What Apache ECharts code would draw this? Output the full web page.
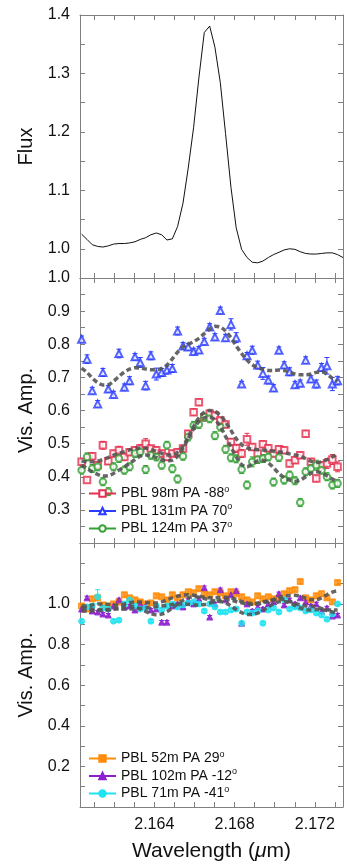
<!DOCTYPE html>
<html>
<head>
<meta charset="utf-8">
<script src="https://cdn.jsdelivr.net/npm/echarts@6/dist/echarts.min.js"></script>
<style>
html, body { margin: 0; padding: 0; background: #fff; }
#chart { width: 347px; height: 864px; }
</style>
</head>
<body>
<div id="chart"></div>
<script>
// Spectral channels (micron)
const wave = [2.16038, 2.16065, 2.16091, 2.16118, 2.16144, 2.16171, 2.16197, 2.16224, 2.16251, 2.16277,
  2.16304, 2.16330, 2.16357, 2.16383, 2.16410, 2.16437, 2.16463, 2.16490, 2.16516, 2.16543,
  2.16569, 2.16596, 2.16622, 2.16649, 2.16676, 2.16702, 2.16729, 2.16755, 2.16782, 2.16808,
  2.16835, 2.16862, 2.16888, 2.16915, 2.16941, 2.16968, 2.16994, 2.17021, 2.17047, 2.17074,
  2.17101, 2.17127, 2.17154, 2.17180, 2.17207, 2.17233, 2.17260, 2.17287, 2.17313];
const fluxWave = wave.concat([2.17340]);

// Normalised Br-gamma line profile
const flux = [1.025, 1.016, 1.007, 1.004, 1.003, 1.005, 1.008, 1.009, 1.009, 1.010,
  1.012, 1.016, 1.019, 1.024, 1.027, 1.024, 1.015, 1.017, 1.038, 1.078,
  1.138, 1.208, 1.292, 1.370, 1.381, 1.345, 1.284, 1.197, 1.105, 1.036,
  0.999, 0.985, 0.977, 0.976, 0.979, 0.985, 0.990, 0.994, 0.998, 1.000,
  0.999, 0.995, 0.992, 0.991, 0.991, 0.992, 0.993, 0.993, 0.990, 0.985];

// Long baselines
const amp98 = [0.445, 0.39, 0.462, 0.435, 0.495, 0.447, 0.47, 0.48, 0.46, 0.474,
  0.48, 0.485, 0.50, 0.485, 0.48, 0.47, 0.46, 0.47, 0.474, 0.485,
  0.53, 0.595, 0.625, 0.58, 0.59, 0.585, 0.57, 0.558, 0.505, 0.486,
  0.47, 0.513, 0.49, 0.47, 0.498, 0.486, 0.47, 0.483, 0.48, 0.44,
  0.45, 0.465, 0.53, 0.445, 0.395, 0.435, 0.44, 0.452, 0.43];
const err98 = [0.01, 0.008, 0.01, 0.01, 0.012, 0.01, 0.01, 0.012, 0.01, 0.01,
  0.01, 0.012, 0.015, 0.01, 0.01, 0.01, 0.01, 0.01, 0.01, 0.01,
  0.01, 0.01, 0.01, 0.01, 0.01, 0.01, 0.01, 0.01, 0.01, 0.012,
  0.012, 0.018, 0.01, 0.01, 0.01, 0.01, 0.01, 0.01, 0.01, 0.01,
  0.01, 0.01, 0.01, 0.01, 0.01, 0.01, 0.015, 0.015, 0.015];
const model98 = [0.448, 0.445, 0.445, 0.447, 0.452, 0.458, 0.465, 0.471, 0.476, 0.481,
  0.485, 0.487, 0.486, 0.482, 0.477, 0.471, 0.466, 0.466, 0.474, 0.492,
  0.52, 0.552, 0.578, 0.595, 0.60, 0.597, 0.585, 0.565, 0.54, 0.515,
  0.497, 0.487, 0.483, 0.482, 0.481, 0.479, 0.477, 0.475, 0.473, 0.469,
  0.466, 0.462, 0.455, 0.447, 0.443, 0.445, 0.452, 0.46, 0.468];

const amp131 = [0.815, 0.755, 0.66, 0.62, 0.715, 0.665, 0.648, 0.772, 0.67, 0.69,
  0.762, 0.745, 0.675, 0.765, 0.71, 0.715, 0.722, 0.727, 0.84, 0.795,
  0.792, 0.778, 0.783, 0.808, 0.852, 0.822, 0.902, 0.82, 0.86, 0.82,
  0.68, 0.765, 0.782, 0.737, 0.712, 0.692, 0.668, 0.782, 0.737, 0.717,
  0.678, 0.682, 0.752, 0.695, 0.68, 0.73, 0.735, 0.68, 0.69];
const err131 = [0.01, 0.013, 0.01, 0.01, 0.012, 0.01, 0.01, 0.013, 0.01, 0.012,
  0.01, 0.015, 0.013, 0.012, 0.018, 0.012, 0.012, 0.012, 0.012, 0.01,
  0.01, 0.01, 0.01, 0.01, 0.01, 0.01, 0.01, 0.01, 0.017, 0.015,
  0.008, 0.01, 0.012, 0.012, 0.018, 0.012, 0.01, 0.01, 0.01, 0.012,
  0.01, 0.01, 0.01, 0.01, 0.012, 0.012, 0.025, 0.02, 0.013];
const model131 = [0.728, 0.715, 0.698, 0.684, 0.677, 0.678, 0.688, 0.703, 0.716, 0.725,
  0.729, 0.728, 0.725, 0.723, 0.723, 0.727, 0.737, 0.756, 0.776, 0.792,
  0.800, 0.808, 0.818, 0.832, 0.846, 0.854, 0.852, 0.840, 0.820, 0.795,
  0.772, 0.752, 0.738, 0.729, 0.724, 0.721, 0.721, 0.722, 0.721, 0.716,
  0.710, 0.708, 0.708, 0.710, 0.715, 0.717, 0.710, 0.697, 0.688];

const amp124 = [0.42, 0.46, 0.425, 0.43, 0.385, 0.355, 0.43, 0.455, 0.42, 0.43,
  0.47, 0.475, 0.422, 0.465, 0.46, 0.435, 0.495, 0.424, 0.393, 0.462,
  0.52, 0.555, 0.558, 0.58, 0.575, 0.524, 0.55, 0.483, 0.457, 0.454,
  0.422, 0.375, 0.445, 0.452, 0.455, 0.46, 0.384, 0.458, 0.39, 0.405,
  0.388, 0.322, 0.415, 0.425, 0.435, 0.42, 0.40, 0.375, 0.38];
const err124 = [0.012, 0.012, 0.012, 0.012, 0.012, 0.012, 0.012, 0.012, 0.012, 0.012,
  0.012, 0.012, 0.012, 0.012, 0.012, 0.012, 0.012, 0.012, 0.012, 0.012,
  0.012, 0.012, 0.012, 0.012, 0.012, 0.012, 0.012, 0.012, 0.012, 0.012,
  0.012, 0.012, 0.015, 0.012, 0.012, 0.012, 0.012, 0.012, 0.012, 0.012,
  0.012, 0.012, 0.012, 0.012, 0.015, 0.012, 0.012, 0.012, 0.012];
const model124 = [0.435, 0.425, 0.415, 0.407, 0.402, 0.403, 0.41, 0.42, 0.43, 0.44,
  0.452, 0.462, 0.466, 0.464, 0.458, 0.452, 0.448, 0.45, 0.462, 0.485,
  0.515, 0.545, 0.567, 0.578, 0.58, 0.572, 0.552, 0.522, 0.49, 0.46,
  0.437, 0.43, 0.438, 0.448, 0.45, 0.442, 0.427, 0.41, 0.397, 0.39,
  0.386, 0.39, 0.40, 0.41, 0.415, 0.412, 0.403, 0.393, 0.386];

// Short / intermediate baselines
const amp52 = [0.99, 0.975, 1.025, 1.03, 0.995, 0.985, 1.0, 1.01, 1.045, 1.03,
  1.02, 1.01, 1.0, 1.005, 1.04, 1.035, 1.02, 1.045, 1.03, 1.045,
  1.06, 1.055, 1.075, 1.05, 1.045, 1.06, 1.055, 1.04, 1.06, 1.05,
  1.035, 1.02, 1.01, 1.04, 1.025, 1.035, 1.025, 1.03, 1.05, 1.065,
  1.07, 1.11, 1.03, 1.02, 1.04, 1.05, 1.03, 1.01, 1.105];
const err52 = [0.01, 0.01, 0.01, 0.01, 0.01, 0.01, 0.01, 0.01, 0.01, 0.01,
  0.01, 0.01, 0.01, 0.01, 0.01, 0.01, 0.01, 0.01, 0.01, 0.01,
  0.01, 0.01, 0.01, 0.01, 0.01, 0.01, 0.01, 0.01, 0.01, 0.01,
  0.01, 0.01, 0.01, 0.01, 0.01, 0.01, 0.01, 0.01, 0.01, 0.01,
  0.01, 0.01, 0.01, 0.01, 0.012, 0.012, 0.01, 0.01, 0.01];
const model52 = [0.99, 0.99, 0.995, 1.0, 1.0, 0.998, 0.995, 0.995, 1.0, 1.005,
  1.01, 1.01, 1.008, 1.005, 1.005, 1.01, 1.02, 1.03, 1.038, 1.043,
  1.045, 1.043, 1.038, 1.033, 1.03, 1.03, 1.032, 1.033, 1.03, 1.022,
  1.012, 1.005, 1.003, 1.005, 1.01, 1.015, 1.022, 1.03, 1.038, 1.042,
  1.043, 1.038, 1.028, 1.02, 1.02, 1.03, 1.045, 1.058, 1.065];

const amp102 = [0.975, 1.03, 0.965, 0.96, 0.95, 0.945, 0.99, 1.02, 0.985, 0.99,
  0.97, 1.0, 0.99, 0.97, 0.975, 0.91, 0.91, 0.99, 1.0, 0.985,
  1.02, 1.0, 1.025, 1.08, 0.935, 1.0, 1.07, 1.02, 1.045, 1.065,
  0.905, 1.0, 0.965, 0.985, 0.975, 1.0, 1.01, 1.05, 0.995, 1.02,
  1.0, 1.03, 1.01, 0.99, 1.0, 0.965, 0.98, 0.94, 0.945];
const err102 = [0.008, 0.008, 0.008, 0.008, 0.008, 0.008, 0.008, 0.008, 0.008, 0.008,
  0.008, 0.008, 0.008, 0.008, 0.008, 0.008, 0.008, 0.008, 0.008, 0.008,
  0.008, 0.008, 0.008, 0.008, 0.008, 0.008, 0.008, 0.008, 0.008, 0.008,
  0.008, 0.008, 0.008, 0.008, 0.008, 0.008, 0.008, 0.008, 0.008, 0.008,
  0.008, 0.008, 0.008, 0.008, 0.008, 0.008, 0.008, 0.008, 0.008];
const model102 = [0.98, 0.978, 0.975, 0.972, 0.97, 0.97, 0.975, 0.982, 0.988, 0.99,
  0.985, 0.975, 0.963, 0.952, 0.947, 0.95, 0.962, 0.98, 1.0, 1.018,
  1.03, 1.035, 1.033, 1.027, 1.02, 1.015, 1.012, 1.005, 0.99, 0.972,
  0.957, 0.948, 0.948, 0.955, 0.968, 0.985, 1.0, 1.01, 1.012, 1.005,
  0.993, 0.98, 0.972, 0.97, 0.972, 0.972, 0.967, 0.96, 0.955];

const amp71 = [0.915, 0.985, 0.99, 1.035, 0.98, 0.975, 0.915, 0.92, 1.0, 1.02,
  0.99, 0.975, 0.98, 0.915, 0.99, 0.97, 0.99, 1.0, 0.985, 0.995,
  1.005, 1.01, 1.0, 0.965, 1.0, 0.985, 0.96, 0.96, 0.97, 0.975,
  0.905, 0.96, 0.955, 0.965, 0.905, 0.97, 0.98, 0.96, 1.02, 0.975,
  0.985, 0.98, 0.965, 0.97, 0.955, 0.945, 0.925, 0.95, 1.0];
const err71 = [0.008, 0.008, 0.008, 0.035, 0.008, 0.008, 0.008, 0.008, 0.008, 0.008,
  0.008, 0.008, 0.008, 0.008, 0.008, 0.008, 0.008, 0.008, 0.008, 0.008,
  0.008, 0.008, 0.008, 0.008, 0.008, 0.008, 0.008, 0.008, 0.008, 0.008,
  0.008, 0.008, 0.008, 0.008, 0.008, 0.008, 0.008, 0.008, 0.008, 0.008,
  0.008, 0.008, 0.008, 0.008, 0.008, 0.008, 0.008, 0.008, 0.008];
const model71 = [0.965, 0.965, 0.966, 0.968, 0.97, 0.972, 0.975, 0.975, 0.975, 0.975,
  0.976, 0.978, 0.98, 0.983, 0.987, 0.99, 0.993, 0.997, 1.0, 1.0,
  0.998, 0.996, 0.995, 0.997, 1.003, 1.01, 1.017, 1.02, 1.018, 1.012,
  1.005, 1.0, 0.998, 1.0, 1.005, 1.012, 1.02, 1.025, 1.022, 1.013,
  1.003, 0.995, 0.99, 0.99, 0.985, 0.978, 0.972, 0.97, 0.97];

// Axis ticks and labels
const waveTicks = [2.161, 2.162, 2.163, 2.164, 2.165, 2.166, 2.167, 2.168, 2.169, 2.170, 2.171, 2.172, 2.173];
const waveLabels = [2.164, 2.168, 2.172];
const fluxTicks = [0.95, 1.0, 1.05, 1.1, 1.15, 1.2, 1.25, 1.3, 1.35, 1.4];
const fluxLabels = [1.0, 1.1, 1.2, 1.3, 1.4];
const midTicks = [0.2, 0.25, 0.3, 0.35, 0.4, 0.45, 0.5, 0.55, 0.6, 0.65, 0.7, 0.75, 0.8, 0.85, 0.9, 0.95, 1.0];
const midLabels = [0.3, 0.4, 0.5, 0.6, 0.7, 0.8, 0.9, 1.0];
const lowTicks = [0, 0.1, 0.2, 0.3, 0.4, 0.5, 0.6, 0.7, 0.8, 0.9, 1.0, 1.1, 1.2, 1.3];
const lowLabels = [0.2, 0.4, 0.6, 0.8, 1.0];

const FONT = '"Liberation Sans", Arial, Helvetica, sans-serif';
const AXIS_COLOR = '#808080';
const TEXT_COLOR = '#111';
const MODEL_COLOR = 'rgba(85,85,85,0.9)';

const grids = [
  { left: 80, right: 4, top: 15, height: 263 },
  { left: 80, right: 4, top: 278, height: 265 },
  { left: 80, right: 4, top: 543, height: 264 }
];

function xAxisFor(gridIndex, position, withLabels) {
  return {
    type: 'value', gridIndex, position,
    min: 2.1603, max: 2.1734,
    axisLine: { show: true, onZero: false, lineStyle: { color: AXIS_COLOR, width: 1 } },
    axisTick: { show: true, inside: true, length: 5, customValues: waveTicks,
      lineStyle: { color: AXIS_COLOR, width: 1 } },
    axisLabel: { show: withLabels, customValues: waveLabels, margin: 10,
      fontSize: 16, fontFamily: FONT, color: TEXT_COLOR,
      formatter: v => v.toFixed(3) },
    splitLine: { show: false },
    name: withLabels ? 'Wavelength ({mu|μ}m)' : '',
    nameLocation: 'middle', nameGap: 34,
    nameTextStyle: { fontSize: 21, fontFamily: FONT, color: TEXT_COLOR,
      rich: { mu: { fontSize: 21, fontFamily: FONT, fontStyle: 'italic', color: TEXT_COLOR } } }
  };
}

function yAxisFor(gridIndex, position, range, ticks, labels, name) {
  const left = position === 'left';
  return {
    type: 'value', gridIndex, position,
    min: range[0], max: range[1],
    axisLine: { show: true, onZero: false, lineStyle: { color: AXIS_COLOR, width: 1 } },
    axisTick: { show: true, inside: true, length: 5, customValues: ticks,
      lineStyle: { color: AXIS_COLOR, width: 1 } },
    axisLabel: { show: left, customValues: labels, margin: 10,
      fontSize: 16, fontFamily: FONT, color: TEXT_COLOR,
      formatter: v => v.toFixed(1) },
    splitLine: { show: false },
    name: left ? name : '',
    nameLocation: 'middle', nameGap: 44,
    nameTextStyle: { fontSize: 20, fontFamily: FONT, color: TEXT_COLOR }
  };
}

const xAxes = [
  xAxisFor(0, 'bottom', false), xAxisFor(0, 'top', false),
  xAxisFor(1, 'bottom', false), xAxisFor(1, 'top', false),
  xAxisFor(2, 'bottom', true), xAxisFor(2, 'top', false)
];
const yAxes = [
  yAxisFor(0, 'left', [0.95, 1.4], fluxTicks, fluxLabels, 'Flux'),
  yAxisFor(0, 'right', [0.95, 1.4], fluxTicks, fluxLabels, ''),
  yAxisFor(1, 'left', [0.2, 1.0], midTicks, midLabels, 'Vis. Amp.'),
  yAxisFor(1, 'right', [0.2, 1.0], midTicks, midLabels, ''),
  yAxisFor(2, 'left', [0, 1.3], lowTicks, lowLabels, 'Vis. Amp.'),
  yAxisFor(2, 'right', [0, 1.3], lowTicks, lowLabels, '')
];

function errorBars(color, capHalf) {
  return function (params, api) {
    const x = api.value(0), y = api.value(1), e = api.value(2);
    const lo = api.coord([x, y - e]);
    const hi = api.coord([x, y + e]);
    const style = { stroke: color, lineWidth: 1, fill: null };
    return {
      type: 'group',
      children: [
        { type: 'line', shape: { x1: lo[0], y1: lo[1], x2: hi[0], y2: hi[1] }, style },
        { type: 'line', shape: { x1: lo[0] - capHalf, y1: lo[1], x2: lo[0] + capHalf, y2: lo[1] }, style },
        { type: 'line', shape: { x1: hi[0] - capHalf, y1: hi[1], x2: hi[0] + capHalf, y2: hi[1] }, style }
      ]
    };
  };
}

const pairs = (xs, ys) => ys.map((y, i) => [xs[i], y]);
const triples = (xs, ys, es) => ys.map((y, i) => [xs[i], y, es[i]]);

// One visibility data set: legend entry, error bars, markers and model curve
function visSeries(panel, name, color, symbol, size, amp, err, model) {
  const xi = panel * 2, yi = panel * 2;
  return [
    { type: 'line', name, xAxisIndex: xi, yAxisIndex: yi, data: [],
      symbol, symbolSize: size, color,
      itemStyle: { color, borderColor: color, borderWidth: 1 },
      lineStyle: { color, width: 1 } },
    { type: 'custom', xAxisIndex: xi, yAxisIndex: yi, clip: true,
      renderItem: errorBars(color, 2.5), encode: { x: 0, y: 1 },
      data: triples(wave, amp, err), silent: true, z: 2 },
    { type: 'scatter', xAxisIndex: xi, yAxisIndex: yi, symbol, symbolSize: size,
      itemStyle: { color, borderColor: color, borderWidth: 1 },
      data: pairs(wave, amp), silent: true, z: 3 },
    { type: 'line', xAxisIndex: xi, yAxisIndex: yi, data: pairs(wave, model),
      showSymbol: false, smooth: 0.3, silent: true, z: 4,
      lineStyle: { color: MODEL_COLOR, width: 3.5, type: [5, 3] } }
  ];
}

const RED = '#e6304f', BLUE = '#2a3cff', GREEN = '#35a035';
const ORANGE = '#ff8c0a', PURPLE = '#8d1fd0', CYAN = '#1fe3f0';

const series = [
  { type: 'line', xAxisIndex: 0, yAxisIndex: 0, data: pairs(fluxWave, flux),
    showSymbol: false, silent: true, lineStyle: { color: '#111', width: 1 } }
]
  .concat(visSeries(1, 'PBL 98m PA -88', RED, 'emptyRect', 6.5, amp98, err98, model98))
  .concat(visSeries(1, 'PBL 131m PA 70', BLUE, 'emptyTriangle', 7, amp131, err131, model131))
  .concat(visSeries(1, 'PBL 124m PA 37', GREEN, 'emptyCircle', 6.5, amp124, err124, model124))
  .concat(visSeries(2, 'PBL 52m PA 29', ORANGE, 'rect', 6, amp52, err52, model52))
  .concat(visSeries(2, 'PBL 102m PA -12', PURPLE, 'triangle', 6, amp102, err102, model102))
  .concat(visSeries(2, 'PBL 71m PA -41', CYAN, 'circle', 6, amp71, err71, model71));

function legendAt(top, names) {
  return {
    data: names, orient: 'vertical', left: 88, top, padding: 0,
    itemWidth: 27, itemHeight: 8, itemGap: 2,
    selectedMode: false,
    formatter: n => n + '{sup|o}',
    textStyle: { fontSize: 14, fontFamily: FONT, color: TEXT_COLOR,
      rich: { sup: { fontSize: 9, fontFamily: FONT, color: TEXT_COLOR, padding: [0, 0, 8, 0] } } }
  };
}

const chart = echarts.init(document.getElementById('chart'), null, { renderer: 'canvas' });
chart.setOption({
  backgroundColor: '#fff',
  animation: false,
  textStyle: { fontFamily: FONT },
  grid: grids,
  xAxis: xAxes,
  yAxis: yAxes,
  legend: [
    legendAt(485, ['PBL 98m PA -88', 'PBL 131m PA 70', 'PBL 124m PA 37']),
    legendAt(750, ['PBL 52m PA 29', 'PBL 102m PA -12', 'PBL 71m PA -41'])
  ],
  series
});
</script>
</body>
</html>
